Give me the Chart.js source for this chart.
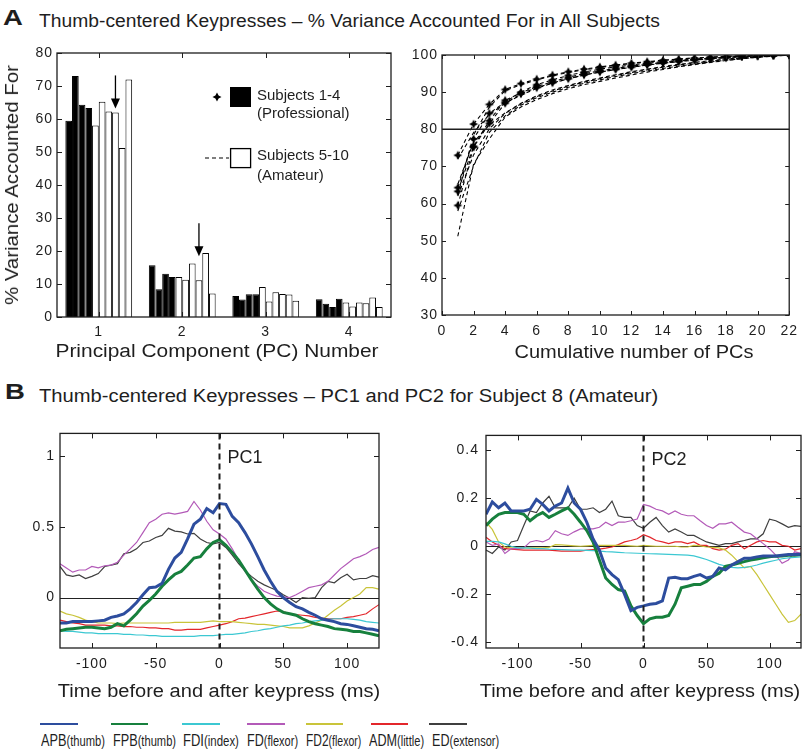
<!DOCTYPE html>
<html>
<head>
<meta charset="utf-8">
<title>Thumb-centered Keypresses</title>
<script src="https://cdn.jsdelivr.net/npm/chart.js@4.4.1/dist/chart.umd.min.js"></script>
<style>
  html, body { margin: 0; padding: 0; background: #fff; }
  #fig { position: relative; width: 805px; height: 756px; overflow: hidden; background: #fff; }
  #fig canvas { position: absolute; }
  .t { position: absolute; white-space: nowrap; line-height: 1; font-family: "Liberation Sans", Arial, Helvetica, sans-serif; color: #1e1e1e; }
  .t .s { font-size: 14.5px; }
  .sw { position: absolute; }
</style>
</head>
<body>
<div id="fig">
  <canvas id="barsA" width="400" height="330" style="left:0;top:40px"></canvas>
  <canvas id="cumA" width="405" height="330" style="left:400px;top:40px"></canvas>
  <canvas id="pc1B" width="400" height="285" style="left:0;top:420px"></canvas>
  <canvas id="pc2B" width="405" height="285" style="left:400px;top:420px"></canvas>

  <div class="t" data-k="1.25" style="left:3px;top:7.4px;font-size:22px;font-weight:bold">A</div>
  <div class="t" data-w="621" style="left:39px;top:11.5px;font-size:18px">Thumb-centered Keypresses – % Variance Accounted For in All Subjects</div>
  <div class="t" data-k="1.25" style="left:5px;top:381.4px;font-size:22px;font-weight:bold">B</div>
  <div class="t" data-w="619" style="left:39px;top:387.3px;font-size:18px">Thumb-centered Keypresses – PC1 and PC2 for Subject 8 (Amateur)</div>

  <div class="t" data-w="240" data-mode="rot" style="left:11.5px;top:185px;font-size:18px">% Variance Accounted For</div>
  <div class="t" data-w="323" data-mode="center" style="left:216.5px;top:350.8px;font-size:18px">Principal Component (PC) Number</div>
  <div class="t" data-w="239" data-mode="center" style="left:633.5px;top:351.8px;font-size:18px">Cumulative number of PCs</div>
  <div class="t" data-w="322" data-mode="center" style="left:219px;top:690.8px;font-size:18px">Time before and after keypress (ms)</div>
  <div class="t" data-w="320" data-mode="center" style="left:640px;top:690.8px;font-size:18px">Time before and after keypress (ms)</div>

  <!-- legend inside the bar panel -->
  <svg class="sw" style="left:200px;top:80px" width="60" height="100">
    <polygon points="17,12.5 18.6,15.4 21.5,17 18.6,18.6 17,21.5 15.4,18.6 12.5,17 15.4,15.4" fill="#000"/>
    <rect x="30" y="7" width="21" height="20" fill="#000"/>
    <line x1="5" y1="78" x2="29" y2="78" stroke="#000" stroke-width="1.2" stroke-dasharray="4 3"/>
    <rect x="30.6" y="68.6" width="20" height="19" fill="#fff" stroke="#000" stroke-width="1.3"/>
  </svg>
  <div class="t" style="left:257px;top:87.3px;font-size:15px">Subjects 1-4</div>
  <div class="t" style="left:257px;top:105.3px;font-size:15px">(Professional)</div>
  <div class="t" style="left:257px;top:147.3px;font-size:15px">Subjects 5-10</div>
  <div class="t" style="left:257px;top:166.8px;font-size:15px">(Amateur)</div>

  <!-- muscle legend -->
  <div class="sw" style="left:40px;top:723px;width:38px;height:2px;background:#2d4d9e"></div>
  <div class="sw" style="left:111px;top:723px;width:37px;height:2px;background:#17803d"></div>
  <div class="sw" style="left:182px;top:723px;width:38px;height:2px;background:#3cc8d2"></div>
  <div class="sw" style="left:247px;top:723px;width:38px;height:2px;background:#b35ab8"></div>
  <div class="sw" style="left:306px;top:723px;width:37px;height:2px;background:#c9c43a"></div>
  <div class="sw" style="left:371px;top:723px;width:37px;height:2px;background:#e3262b"></div>
  <div class="sw" style="left:429px;top:723px;width:38px;height:2px;background:#3f3f3f"></div>
  <div class="t" data-w="64" style="left:41px;top:731.5px;font-size:16.5px">APB<span class="s">(thumb)</span></div>
  <div class="t" data-w="63" style="left:113px;top:731.5px;font-size:16.5px">FPB<span class="s">(thumb)</span></div>
  <div class="t" data-w="56" style="left:183px;top:731.5px;font-size:16.5px">FDI<span class="s">(index)</span></div>
  <div class="t" data-w="51" style="left:247px;top:731.5px;font-size:16.5px">FD<span class="s">(flexor)</span></div>
  <div class="t" data-w="55" style="left:306px;top:731.5px;font-size:16.5px">FD2<span class="s">(flexor)</span></div>
  <div class="t" data-w="55" style="left:369px;top:731.5px;font-size:16.5px">ADM<span class="s">(little)</span></div>
  <div class="t" data-w="67" style="left:432px;top:731.5px;font-size:16.5px">ED<span class="s">(extensor)</span></div>
</div>

<script>
// ---- panel A, left: % variance of each PC, subjects 1-10 (1-4 professional, 5-10 amateur)
const pcLabels = ['1', '2', '3', '4'];
const professionalCount = 4;
const varPC1 = [59.5, 73.0, 64.3, 63.3, 58.0, 65.2, 62.3, 62.0, 51.2, 72.0];
const varPC2 = [15.7, 8.4, 13.1, 12.1, 12.1, 11.3, 16.2, 11.1, 19.4, 7.1];
const varPC3 = [6.4, 5.3, 6.9, 6.9, 9.1, 4.7, 7.5, 7.0, 6.8, 4.9];
const varPC4 = [5.4, 4.0, 3.0, 5.5, 4.4, 3.2, 4.4, 4.2, 5.9, 3.0];
// arrows point at subject 8
const arrowSubject = 7;
const arrowFrom = [73.2, 28.4];
const arrowTo = [63.2, 18.4];

// ---- panel A, right: cumulative % variance
const pcCount = [1, 2, 3, 4, 5, 6, 7, 8, 9, 10, 11, 12, 13, 14, 15, 16, 17, 18, 19, 20, 21, 22];
const cumS1 = [59.5, 75.2, 81.6, 87.0, 89.5, 91.2, 92.5, 93.6, 94.6, 95.4, 96.1, 96.7, 97.3, 97.8, 98.2, 98.6, 99.0, 99.3, 99.6, 99.8, 99.9, 100];
const cumS2 = [73.0, 81.4, 86.7, 90.7, 92.3, 93.5, 94.6, 95.5, 96.2, 96.8, 97.3, 97.8, 98.2, 98.6, 98.9, 99.2, 99.4, 99.6, 99.75, 99.85, 99.95, 100];
const cumS3 = [64.3, 77.4, 84.3, 87.3, 90.0, 92.0, 93.3, 94.5, 95.4, 96.2, 96.8, 97.3, 97.8, 98.2, 98.6, 98.9, 99.2, 99.4, 99.6, 99.8, 99.9, 100];
const cumS4 = [63.3, 75.4, 82.3, 87.8, 89.8, 91.5, 92.8, 94.0, 95.0, 95.7, 96.4, 97.0, 97.5, 98.0, 98.4, 98.8, 99.1, 99.4, 99.6, 99.8, 99.9, 100];
const cumS5 = [58.0, 70.1, 79.2, 83.6, 86.5, 88.5, 90.0, 91.3, 92.4, 93.3, 94.2, 95.0, 95.7, 96.4, 97.0, 97.6, 98.1, 98.6, 99.0, 99.4, 99.7, 100];
const cumS6 = [65.2, 76.5, 81.2, 84.4, 87.0, 89.0, 90.6, 91.8, 92.9, 93.8, 94.7, 95.5, 96.2, 96.9, 97.5, 98.0, 98.5, 98.9, 99.3, 99.6, 99.8, 100];
const cumS7 = [62.3, 78.5, 86.0, 90.4, 92.0, 93.3, 94.4, 95.3, 96.0, 96.6, 97.2, 97.7, 98.1, 98.5, 98.9, 99.2, 99.4, 99.6, 99.8, 99.9, 100, 100];
const cumS8 = [62.0, 73.1, 80.1, 84.3, 86.8, 88.8, 90.3, 91.6, 92.7, 93.6, 94.5, 95.3, 96.0, 96.7, 97.3, 97.8, 98.3, 98.8, 99.2, 99.5, 99.8, 100];
const cumS9 = [51.2, 70.6, 77.4, 83.3, 86.0, 88.0, 89.6, 90.9, 92.0, 92.9, 93.8, 94.6, 95.4, 96.1, 96.8, 97.4, 98.0, 98.5, 99.0, 99.4, 99.7, 100];
const cumS10 = [72.0, 79.1, 84.0, 87.0, 89.2, 91.0, 92.4, 93.6, 94.6, 95.4, 96.1, 96.7, 97.3, 97.8, 98.3, 98.7, 99.0, 99.3, 99.6, 99.8, 99.9, 100];
const threshold = 80;

// ---- panel B: PC1 and PC2 weights over time, subject 8
const timeMs = [-125, -120, -115, -110, -105, -100, -95, -90, -85, -80, -75, -70, -65, -60, -55, -50, -45, -40, -35, -30, -25, -20, -15, -10, -5,
  0, 5, 10, 15, 20, 25, 30, 35, 40, 45, 50, 55, 60, 65, 70, 75, 80, 85, 90, 95, 100, 105, 110, 115, 120, 125];
const timeTicks = [-100, -50, 0, 50, 100];
const pc1Ticks = [0, 0.5, 1];
const pc2Ticks = [-0.4, -0.2, 0, 0.2, 0.4];
const muscles = ['APB', 'FPB', 'FDI', 'FD', 'FD2', 'ADM', 'ED'];
const muscleColors = ['#2d4d9e', '#17803d', '#3cc8d2', '#b35ab8', '#c9c43a', '#e3262b', '#3f3f3f'];

const apbPC1 = [-0.18, -0.18, -0.17, -0.17, -0.17, -0.17, -0.165, -0.16, -0.14, -0.13, -0.115, -0.08, -0.035, 0.02, 0.07, 0.075, 0.10, 0.20, 0.28, 0.32, 0.415, 0.52, 0.555, 0.63, 0.60,
  0.665, 0.66, 0.575, 0.53, 0.46, 0.38, 0.29, 0.195, 0.115, 0.045, 0.0, -0.035, -0.065, -0.08, -0.105, -0.125, -0.15, -0.16, -0.17, -0.185, -0.19, -0.20, -0.21, -0.22, -0.225, -0.235];
const fpbPC1 = [-0.235, -0.225, -0.22, -0.215, -0.21, -0.21, -0.215, -0.22, -0.21, -0.185, -0.20, -0.16, -0.115, -0.06, -0.02, 0.025, 0.08, 0.125, 0.165, 0.185, 0.23, 0.28, 0.29, 0.345, 0.39,
  0.41, 0.37, 0.32, 0.265, 0.195, 0.125, 0.06, 0.0, -0.045, -0.08, -0.105, -0.115, -0.125, -0.15, -0.17, -0.185, -0.195, -0.205, -0.22, -0.225, -0.23, -0.24, -0.24, -0.25, -0.26, -0.27];
const fdiPC1 = [-0.235, -0.24, -0.24, -0.245, -0.25, -0.25, -0.255, -0.255, -0.255, -0.255, -0.26, -0.26, -0.265, -0.265, -0.27, -0.27, -0.275, -0.275, -0.275, -0.275, -0.275, -0.275, -0.27, -0.27, -0.27,
  -0.265, -0.26, -0.26, -0.255, -0.25, -0.24, -0.235, -0.225, -0.22, -0.21, -0.2, -0.195, -0.185, -0.18, -0.17, -0.165, -0.16, -0.155, -0.15, -0.15, -0.15, -0.155, -0.16, -0.17, -0.175, -0.18];
const fdPC1 = [0.24, 0.21, 0.18, 0.195, 0.195, 0.22, 0.21, 0.225, 0.23, 0.25, 0.30, 0.345, 0.39, 0.46, 0.53, 0.555, 0.59, 0.60, 0.59, 0.60, 0.61, 0.68, 0.62, 0.54, 0.48,
  0.45, 0.415, 0.345, 0.265, 0.185, 0.125, 0.08, 0.045, 0.025, 0.01, 0.005, 0.0, 0.02, 0.045, 0.07, 0.08, 0.09, 0.115, 0.16, 0.205, 0.24, 0.275, 0.29, 0.31, 0.34, 0.355];
const fd2PC1 = [-0.095, -0.115, -0.125, -0.14, -0.16, -0.17, -0.18, -0.18, -0.18, -0.185, -0.18, -0.18, -0.18, -0.18, -0.18, -0.18, -0.18, -0.18, -0.175, -0.175, -0.175, -0.175, -0.175, -0.17, -0.165,
  -0.17, -0.17, -0.17, -0.175, -0.18, -0.185, -0.19, -0.19, -0.195, -0.2, -0.205, -0.215, -0.215, -0.215, -0.2, -0.18, -0.16, -0.125, -0.09, -0.06, -0.025, 0.0, 0.025, 0.07, 0.07, 0.06];
const admPC1 = [-0.16, -0.17, -0.18, -0.185, -0.195, -0.195, -0.195, -0.195, -0.2, -0.2, -0.205, -0.205, -0.21, -0.21, -0.215, -0.215, -0.22, -0.22, -0.23, -0.23, -0.225, -0.225, -0.225, -0.215, -0.205,
  -0.195, -0.185, -0.17, -0.15, -0.145, -0.135, -0.125, -0.115, -0.105, -0.095, -0.1, -0.115, -0.12, -0.125, -0.13, -0.14, -0.145, -0.15, -0.15, -0.15, -0.14, -0.135, -0.125, -0.115, -0.08, -0.05];
const edPC1 = [0.22, 0.16, 0.15, 0.16, 0.135, 0.15, 0.17, 0.22, 0.23, 0.24, 0.31, 0.32, 0.345, 0.39, 0.40, 0.425, 0.44, 0.49, 0.47, 0.465, 0.45, 0.455, 0.415, 0.39, 0.38,
  0.39, 0.355, 0.30, 0.24, 0.19, 0.15, 0.115, 0.09, 0.07, 0.05, 0.02, -0.005, -0.035, 0.0, -0.005, 0.0, 0.07, 0.115, 0.105, 0.14, 0.165, 0.125, 0.135, 0.135, 0.155, 0.145];

const apbPC2 = [0.133, 0.184, 0.16, 0.18, 0.147, 0.147, 0.147, 0.154, 0.195, 0.174, 0.147, 0.167, 0.18, 0.242, 0.18, 0.154, 0.10, 0.03, -0.016, -0.09, -0.118, -0.139, -0.20, -0.268, -0.254,
  -0.248, -0.241, -0.238, -0.227, -0.132, -0.129, -0.135, -0.135, -0.125, -0.118, -0.132, -0.125, -0.09, -0.098, -0.078, -0.064, -0.05, -0.05, -0.044, -0.04, -0.04, -0.04, -0.037, -0.034, -0.034, -0.033];
const fpbPC2 = [0.086, 0.113, 0.133, 0.14, 0.14, 0.14, 0.133, 0.106, 0.127, 0.14, 0.12, 0.133, 0.147, 0.16, 0.133, 0.10, 0.065, 0.018, -0.057, -0.132, -0.159, -0.18, -0.186, -0.248, -0.288,
  -0.322, -0.302, -0.295, -0.295, -0.288, -0.241, -0.173, -0.166, -0.159, -0.159, -0.146, -0.125, -0.112, -0.084, -0.078, -0.071, -0.064, -0.057, -0.053, -0.048, -0.044, -0.041, -0.04, -0.037, -0.037, -0.034];
const fdiPC2 = [0.02, 0.02, 0.018, 0.01, 0.0, -0.007, -0.007, -0.008, -0.01, -0.01, -0.012, -0.013, -0.014, -0.015, -0.016, -0.016, -0.017, -0.018, -0.02, -0.022, -0.023, -0.025, -0.027, -0.028, -0.029,
  -0.03, -0.031, -0.032, -0.033, -0.034, -0.035, -0.036, -0.037, -0.04, -0.047, -0.055, -0.065, -0.075, -0.082, -0.088, -0.09, -0.088, -0.084, -0.078, -0.07, -0.064, -0.058, -0.052, -0.048, -0.046, -0.044];
const fdPC2 = [0.018, 0.004, 0.01, -0.03, -0.01, -0.01, -0.007, 0.018, 0.024, 0.018, 0.03, 0.065, 0.052, 0.045, 0.06, 0.072, 0.072, 0.072, 0.079, 0.10, 0.086, 0.10, 0.10, 0.106, 0.113,
  0.174, 0.167, 0.154, 0.147, 0.133, 0.147, 0.133, 0.127, 0.127, 0.106, 0.086, 0.075, 0.093, 0.093, 0.10, 0.079, 0.059, 0.052, 0.031, 0.011, -0.01, -0.037, -0.071, -0.057, -0.023, -0.03];
const fd2PC2 = [0.10, 0.07, 0.018, -0.003, -0.007, -0.007, -0.007, -0.007, -0.007, -0.007, -0.005, 0.007, 0.006, 0.004, 0.002, 0.0, 0.002, 0.004, 0.004, 0.004, 0.004, 0.004, 0.004, 0.002, 0.0,
  0.004, 0.002, 0.0, 0.0, 0.0, 0.0, -0.003, -0.003, 0.004, 0.002, -0.003, -0.005, -0.007, -0.016, -0.037, -0.064, -0.09, -0.084, -0.118, -0.159, -0.20, -0.241, -0.282, -0.316, -0.309, -0.282];
const admPC2 = [0.038, 0.018, 0.004, -0.01, -0.012, -0.014, -0.016, -0.016, -0.016, -0.016, -0.016, -0.018, -0.02, -0.02, -0.02, -0.02, -0.016, -0.014, -0.012, -0.008, -0.003, 0.007, 0.018, 0.024, 0.031,
  0.048, 0.038, 0.024, 0.018, 0.011, 0.018, 0.018, 0.011, 0.018, 0.004, 0.004, -0.01, -0.016, -0.012, 0.004, 0.011, -0.01, 0.004, 0.018, 0.024, 0.018, 0.018, 0.004, 0.0, -0.016, -0.01];
const edPC2 = [-0.016, -0.03, -0.003, -0.016, 0.018, 0.024, 0.086, 0.147, 0.14, 0.18, 0.208, 0.16, 0.16, 0.16, 0.20, 0.154, 0.154, 0.16, 0.14, 0.154, 0.188, 0.127, 0.12, 0.12, 0.086,
  0.075, 0.10, 0.12, 0.086, 0.059, 0.072, 0.059, 0.045, 0.045, 0.031, 0.018, 0.011, 0.004, 0.011, 0.011, 0.018, 0.024, 0.031, 0.031, 0.052, 0.113, 0.106, 0.093, 0.079, 0.086, 0.083];

// ---- shared look
const ink = '#1e1e1e';
const tickFont = { family: '"Liberation Sans", Arial, Helvetica, sans-serif', size: 14 };

function linearAxis(min, max, size, pad, isY, extra) {
  const ax = {
    type: 'linear', min: min, max: max,
    grid: { display: false, drawTicks: false },
    border: { display: false },
    ticks: Object.assign({ color: ink, font: tickFont, padding: pad, autoSkip: false, maxRotation: 0 }, extra.ticks || {}),
    afterFit: function (s) { if (isY) s.width = size; else s.height = size; }
  };
  if (extra.afterBuildTicks) ax.afterBuildTicks = extra.afterBuildTicks;
  return ax;
}
function fixedTicks(values) {
  return function (s) { s.ticks = values.map(function (v) { return { value: v }; }); };
}

// box, inward ticks on all four sides, reference lines (MATLAB style)
const matlabAxes = {
  id: 'matlabAxes',
  beforeDraw(chart) { chart.ctx.letterSpacing = '1px'; },
  beforeDatasetsDraw(chart, args, opts) {
    if (opts.zeroLine === undefined) return;
    const { ctx, chartArea: a } = chart;
    const py = Math.round(chart.scales.y.getPixelForValue(opts.zeroLine)) + 0.5;
    ctx.save();
    ctx.strokeStyle = '#222'; ctx.lineWidth = 1;
    ctx.beginPath(); ctx.moveTo(a.left, py); ctx.lineTo(a.right, py); ctx.stroke();
    ctx.restore();
  },
  afterDatasetsDraw(chart, args, opts) {
    const { ctx, chartArea: a } = chart;
    const x = chart.scales.x, y = chart.scales.y;
    ctx.save();
    ctx.letterSpacing = '0px';
    ctx.strokeStyle = ink;
    if (opts.hLine !== undefined) {
      const py = y.getPixelForValue(opts.hLine);
      ctx.lineWidth = 1.6;
      ctx.beginPath(); ctx.moveTo(a.left, py); ctx.lineTo(a.right, py); ctx.stroke();
    }
    if (opts.vDash !== undefined) {
      const px = x.getPixelForValue(opts.vDash);
      ctx.lineWidth = 2;
      ctx.setLineDash([6, 4]);
      ctx.beginPath(); ctx.moveTo(px, a.top); ctx.lineTo(px, a.bottom); ctx.stroke();
      ctx.setLineDash([]);
      ctx.fillStyle = ink;
      ctx.font = '18px "Liberation Sans", Arial, sans-serif';
      ctx.fillText(opts.tag, px + 8, a.top + 30);
    }
    ctx.lineWidth = 1.3;
    ctx.strokeRect(a.left, a.top, a.right - a.left, a.bottom - a.top);
    const len = opts.tickLen || 5;
    ctx.lineWidth = 1;
    ctx.beginPath();
    x.ticks.forEach(function (t, i) {
      const px = Math.round(x.getPixelForTick(i)) + 0.5;
      ctx.moveTo(px, a.bottom); ctx.lineTo(px, a.bottom - len);
      ctx.moveTo(px, a.top); ctx.lineTo(px, a.top + len);
    });
    y.ticks.forEach(function (t, i) {
      const py = Math.round(y.getPixelForTick(i)) + 0.5;
      ctx.moveTo(a.left, py); ctx.lineTo(a.left + len, py);
      ctx.moveTo(a.right, py); ctx.lineTo(a.right - len, py);
    });
    ctx.stroke();
    ctx.restore();
  }
};

const subjectArrows = {
  id: 'subjectArrows',
  afterDatasetsDraw(chart) {
    const ctx = chart.ctx, y = chart.scales.y;
    const meta = chart.getDatasetMeta(arrowSubject);
    ctx.save();
    ctx.strokeStyle = '#000'; ctx.fillStyle = '#000'; ctx.lineWidth = 1.3;
    arrowFrom.forEach(function (v, i) {
      const px = meta.data[i].x;
      const y0 = y.getPixelForValue(v), y1 = y.getPixelForValue(arrowTo[i]);
      ctx.beginPath(); ctx.moveTo(px, y0); ctx.lineTo(px, y1 - 8); ctx.stroke();
      ctx.beginPath(); ctx.moveTo(px - 4.5, y1 - 10); ctx.lineTo(px + 4.5, y1 - 10); ctx.lineTo(px, y1); ctx.closePath(); ctx.fill();
    });
    ctx.restore();
  }
};

function starMarker() {
  const c = document.createElement('canvas');
  c.width = 10; c.height = 10;
  const g = c.getContext('2d');
  g.fillStyle = '#000';
  g.beginPath();
  for (let k = 0; k < 8; k++) {
    const ang = k * Math.PI / 4 - Math.PI / 2;
    const rad = k % 2 ? 2.2 : 4.5;
    g.lineTo(5 + rad * Math.cos(ang), 5 + rad * Math.sin(ang));
  }
  g.closePath();
  g.fill();
  return c;
}

const base = { responsive: false, animation: false, devicePixelRatio: 1 };
const quiet = { legend: { display: false }, tooltip: { enabled: false } };

// ---- A left: grouped bars
const varByPC = [varPC1, varPC2, varPC3, varPC4];
const barSets = varPC1.map(function (v, s) {
  return {
    label: 'Subject ' + (s + 1),
    data: varByPC.map(function (pc) { return pc[s]; }),
    backgroundColor: s < professionalCount ? '#000' : '#fff',
    borderColor: '#000',
    borderWidth: 1,
    categoryPercentage: 0.8,
    barPercentage: 1.0
  };
});
new Chart(document.getElementById('barsA'), {
  type: 'bar',
  data: { labels: pcLabels, datasets: barSets },
  options: Object.assign({}, base, {
    layout: { padding: { top: 13, right: 9, left: 0, bottom: 0 } },
    plugins: Object.assign({ matlabAxes: { tickLen: 5 } }, quiet),
    scales: {
      x: {
        type: 'category', offset: true,
        grid: { display: false, drawTicks: false }, border: { display: false },
        ticks: { color: ink, font: tickFont, padding: 7 },
        afterFit: function (s) { s.height = 53; }
      },
      y: linearAxis(0, 80, 57, 4, true, { ticks: { stepSize: 10 } })
    }
  }),
  plugins: [matlabAxes, subjectArrows]
});

// ---- A right: cumulative variance
const star = starMarker();
const cumSeries = [cumS1, cumS2, cumS3, cumS4, cumS5, cumS6, cumS7, cumS8, cumS9, cumS10];
const cumSets = cumSeries.map(function (ys, s) {
  const pro = s < professionalCount;
  return {
    label: 'Subject ' + (s + 1),
    data: ys.map(function (v, k) { return { x: pcCount[k], y: v }; }),
    borderColor: '#000', borderWidth: 1.1, borderDash: [4, 3],
    pointStyle: pro ? star : 'circle', pointRadius: pro ? 4 : 0,
    pointBackgroundColor: '#000', tension: 0, fill: false
  };
});
new Chart(document.getElementById('cumA'), {
  type: 'line',
  data: { datasets: cumSets },
  options: Object.assign({}, base, {
    layout: { padding: { top: 15, right: 10, left: 0, bottom: 0 } },
    plugins: Object.assign({ matlabAxes: { hLine: threshold, tickLen: 4 } }, quiet),
    scales: {
      x: linearAxis(0, 22, 55, 8, false, { ticks: { stepSize: 2 } }),
      y: linearAxis(30, 100, 42, 4, true, { ticks: { stepSize: 10 } })
    }
  }),
  plugins: [matlabAxes]
});

// ---- B: PC weight traces
function traceSets(series) {
  return series.map(function (ys, i) {
    return {
      label: muscles[i],
      data: ys.map(function (v, k) { return { x: timeMs[k], y: v }; }),
      borderColor: muscleColors[i],
      borderWidth: i < 2 ? 3 : 1.2,
      pointRadius: 0, tension: 0, fill: false
    };
  });
}
function tracePanel(id, series, yMin, yMax, yTicks, yWidth, yPad, rightPad, tag) {
  new Chart(document.getElementById(id), {
    type: 'line',
    data: { datasets: traceSets(series) },
    options: Object.assign({}, base, {
      layout: { padding: { top: 10, right: rightPad, left: 0, bottom: 0 } },
      plugins: Object.assign({ matlabAxes: { zeroLine: 0, vDash: 0, tag: tag, tickLen: 5 } }, quiet),
      scales: {
        x: linearAxis(-125, 125, 57, 8, false, {
          afterBuildTicks: fixedTicks(timeTicks),
          ticks: { callback: function (v) { return String(v); } }
        }),
        y: linearAxis(yMin, yMax, yWidth, yPad, true, {
          afterBuildTicks: fixedTicks(yTicks),
          ticks: { callback: function (v) { return String(v); } }
        })
      }
    }),
    plugins: [matlabAxes]
  });
}
tracePanel('pc1B', [apbPC1, fpbPC1, fdiPC1, fdPC1, fd2PC1, admPC1, edPC1], -0.357, 1.162, pc1Ticks, 60, 5, 21, 'PC1');
tracePanel('pc2B', [apbPC2, fpbPC2, fdiPC2, fdPC2, fd2PC2, admPC2, edPC2], -0.423, 0.461, pc2Ticks, 86, 7, 4, 'PC2');

// ---- stretch html text to the widths seen in the figure
document.querySelectorAll('.t').forEach(function (el) {
  const target = parseFloat(el.dataset.w || 0);
  const k = target ? target / el.offsetWidth : parseFloat(el.dataset.k || 1);
  const mode = el.dataset.mode || 'left';
  if (mode === 'left') {
    el.style.transformOrigin = '0 0';
    el.style.transform = 'scaleX(' + k + ')';
  } else if (mode === 'center') {
    el.style.transform = 'translate(-50%,-50%) scaleX(' + k + ')';
  } else {
    el.style.transform = 'translate(-50%,-50%) rotate(-90deg) scaleX(' + k + ')';
  }
});
</script>
</body>
</html>
